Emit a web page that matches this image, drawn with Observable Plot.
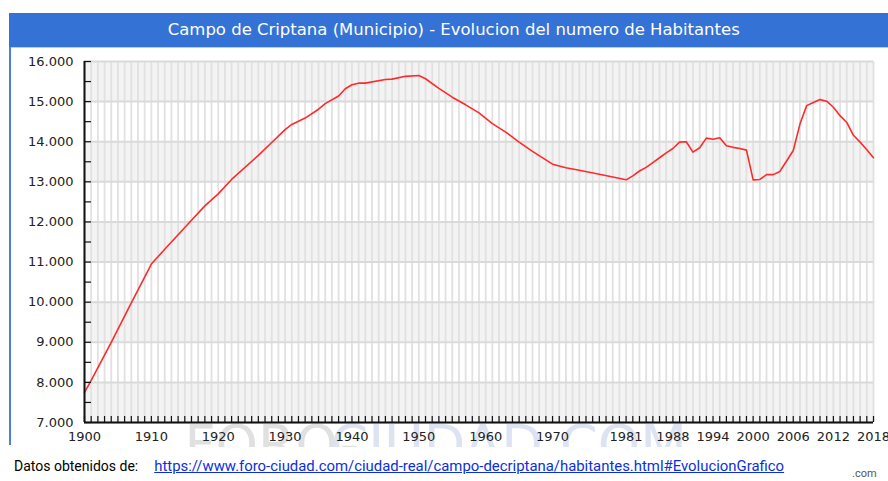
<!DOCTYPE html>
<html>
<head>
<meta charset="utf-8">
<script src="https://cdn.jsdelivr.net/npm/d3@7"></script>
<script src="https://cdn.jsdelivr.net/npm/@observablehq/plot@0.6"></script>
<style>
  body { margin: 0; background: #fff; }
  #wrap { position: relative; width: 888px; height: 481px; overflow: hidden; }
  #title { position: absolute; left: 9px; top: 13px; width: 884px; height: 34px; background: #3572d6;
           color: #fff; text-align: center; line-height: 34px; white-space: nowrap; overflow: hidden; }
  #title span { display: inline-block; font-family: "DejaVu Sans"; font-size: 16px; transform-origin: 50% 50%; }
  #tline { position: absolute; left: 9px; top: 47px; width: 884px; height: 1px; background: #b4cdf2; }
  #lborder { position: absolute; left: 9px; top: 47px; width: 2px; height: 398px; background: #4a80e0; }
  #chart { position: absolute; left: 0; top: 47px; }
  #cap { position: absolute; left: 14px; top: 457px; font-family: Roboto, "Liberation Sans"; font-size: 14px; color: #000; white-space: nowrap; }
  #cap a { color: #0b2fe0; text-decoration: underline; margin-left: 16px; font-size: 14.9px; }
  #com { position: absolute; left: 852px; top: 467px; font-family: Roboto, "Liberation Sans"; font-size: 11px; color: #555; }
</style>
</head>
<body>
<div id="wrap">
  <div id="title"><span id="ttext">Campo de Criptana (Municipio) - Evolucion del numero de Habitantes</span></div>
  <div id="tline"></div>
  <div id="chart"></div>
  <div id="lborder"></div>
  <div id="cap">Datos obtenidos de:<a>https://www.foro-ciudad.com/ciudad-real/campo-decriptana/habitantes.html#EvolucionGrafico</a></div>
  <div id="com">.com</div>
</div>
<script>
const years = [1900,1901,1904,1907,1910,1912,1915,1918,1920,1922,1926,1928,1930,1931,1933,1935,1936,1938,1939,1940,1941,1942,1945,1946,1948,1950,1951,1953,1955,1957,1959,1961,1963,1965,1967,1970,1972,1974,1977,1979,1981,1982,1983,1984,1985,1986,1987,1988,1989,1990,1991,1992,1993,1994,1995,1996,1997,1998,1999,2000,2001,2002,2003,2004,2005,2006,2007,2008,2009,2010,2011,2012,2013,2014,2015,2016,2017,2018];
const habitantes = [7750,8050,9000,9980,10950,11320,11860,12400,12700,13060,13660,13980,14300,14430,14590,14810,14950,15140,15320,15420,15460,15460,15550,15560,15630,15650,15570,15330,15110,14920,14720,14450,14240,13990,13760,13440,13350,13290,13190,13120,13050,13150,13270,13360,13480,13600,13720,13830,13990,14000,13740,13850,14090,14060,14100,13900,13860,13830,13790,13050,13060,13180,13180,13260,13520,13780,14440,14900,14980,15050,15010,14860,14650,14480,14160,13990,13800,13600];
const xTickLabels = [1900,1910,1920,1930,1940,1950,1960,1970,1981,1988,1994,2000,2006,2012,2018];
const yTickValues = [7000,8000,9000,10000,11000,12000,13000,14000,15000,16000];
const yMinorTicks = [7500,8500,9500,10500,11500,12500,13500,14500,15500];
const shadedBands = [7000,9000,11000,13000,15000];
const gridYears = d3.range(1900, 2019);

const data = years.map((y, i) => ({year: y, value: habitantes[i]}));
const fmt = d => d3.format(",")(d).replace(/,/g, ".");

// fit title to reference width
const tt = document.getElementById("ttext");
const tw = tt.getBoundingClientRect().width;
tt.style.transform = `scaleX(${572 / tw})`;
tt.style.marginLeft = "5px";

const W = 888, H = 400, mL = 84, mR = 15, mT = 14, mB = 25;
const innerW = W - mL - mR, innerH = H - mT - mB;

const chart = Plot.plot({
  width: W, height: H,
  marginLeft: mL, marginRight: mR, marginTop: mT, marginBottom: mB,
  style: {fontFamily: "DejaVu Sans", fontSize: "13px", color: "#222", background: "transparent", overflow: "hidden"},
  x: {domain: [1900, 2018]},
  y: {domain: [7000, 16000]},
  marks: [
    Plot.text(["FORO-"], {frameAnchor: "bottom-left", dx: 100, dy: 40, fill: "#e0e0e0", fontSize: 54, fontFamily: "DejaVu Sans", textAnchor: "start"}),
    Plot.text(["CIUDAD.COM"], {frameAnchor: "bottom-left", dx: 246, dy: 40, fill: "#dde3f2", fontSize: 54, fontFamily: "DejaVu Sans", textAnchor: "start"}),
    Plot.rect(shadedBands, {x1: () => 1900, x2: () => 2018, y1: d => d, y2: d => d + 1000, fill: "#f3f3f3"}),
    Plot.ruleX(gridYears, {stroke: "#e1e1e1", strokeWidth: 1.8}),
    Plot.ruleY(yTickValues, {stroke: "#dadada", strokeWidth: 2}),
    Plot.line(data, {x: "year", y: "value", stroke: "#ff2a2a", strokeWidth: 1.6}),
    Plot.tickX(gridYears, {x: d => d, stroke: "#111", strokeWidth: 1.2, insetTop: innerH - 6}),
    Plot.tickY(yTickValues.concat(yMinorTicks), {y: d => d, stroke: "#111", strokeWidth: 1.2, insetRight: innerW - 7}),
    Plot.ruleX([1900], {stroke: "#111", strokeWidth: 2}),
    Plot.ruleY([7000], {stroke: "#111", strokeWidth: 2}),
    Plot.axisX({ticks: xTickLabels, tickSize: 0, tickPadding: 9, tickFormat: d => String(d), label: null, fill: "#222"}),
    Plot.axisY({ticks: yTickValues, tickSize: 0, tickPadding: 11, tickFormat: fmt, label: null, fill: "#222"})
  ]
});
document.getElementById("chart").appendChild(chart);
</script>
</body>
</html>
